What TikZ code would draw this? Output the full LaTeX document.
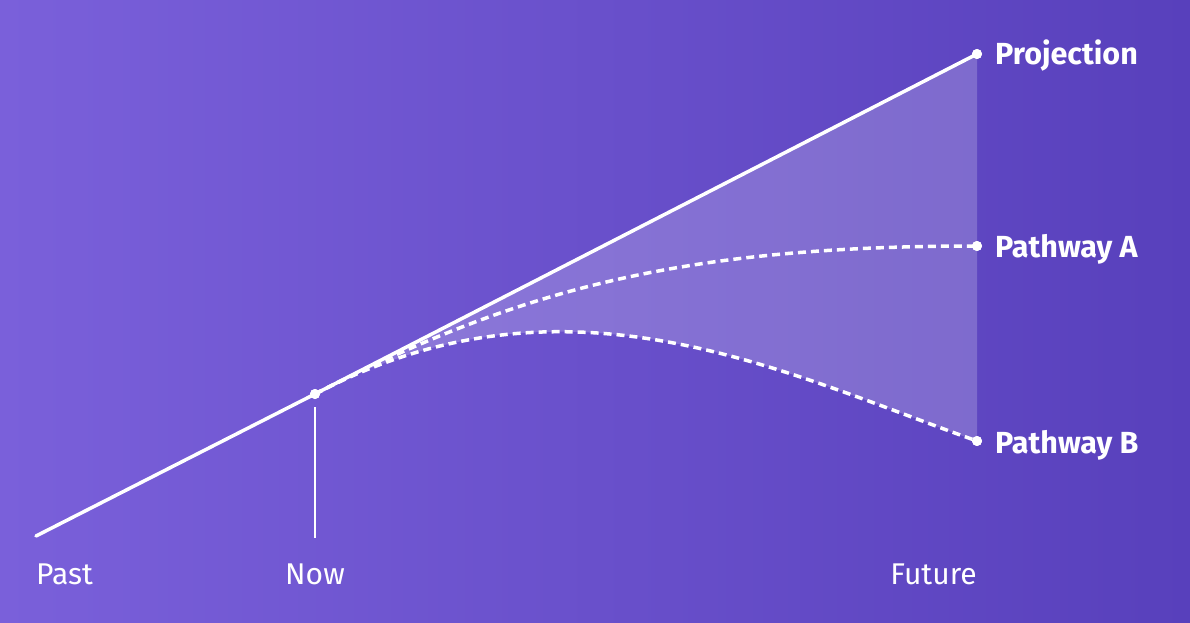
\documentclass[tikz,border=0pt]{standalone}
\usepackage{fontspec}
\setmainfont{Fira Sans}
\usetikzlibrary{calc}
\definecolor{bgL}{HTML}{7A60DA}
\definecolor{bgR}{HTML}{5840BC}
\tikzset{
  mainline/.style={white, line width=3.5pt, line cap=round},
  pathline/.style={white, line width=3.5pt, dash pattern=on 8pt off 5pt},
  dot/.style={circle, fill=white, inner sep=0pt, minimum size=10pt},
  endlabel/.style={anchor=west, text=white, font=\fontsize{30.5}{36}\selectfont\bfseries, inner sep=0pt},
  axislabel/.style={text=white, font=\fontsize{30}{36}\selectfont, inner sep=0pt, anchor=base}
}
\begin{document}
\begin{tikzpicture}[x=1pt,y=-1pt]
\shade[left color=bgL, right color=bgR] (0,0) rectangle (1190,623);
\useasboundingbox (0,0) rectangle (1190,623);
\coordinate (past) at (36,536);
\node[dot] (now) at (315,394) {};
\node[dot] (proj) at (977,54) {};
\node[dot] (pa) at (977,246) {};
\node[dot] (pb) at (977,441) {};
\coordinate (nowtop) at (315,407);
\coordinate (nowbot) at (315,538);
% shaded cone
\fill[white, opacity=0.2] (now.center) -- (proj.center) -- (pb.center) .. controls (777,370) and (565,262) .. (now.center) -- cycle;
\draw[mainline] (past) -- (now.center) -- (proj.center);
\draw[white, line width=2pt] (nowtop) -- (nowbot);
\draw[pathline] (now.center) .. controls (515,291.3) and (677,246) .. (pa.center);
\draw[pathline] (now.center) .. controls (565,262) and (777,370) .. (pb.center);
\node[dot] at (now) {};
\node[dot] at (proj) {};
\node[dot] at (pa) {};
\node[dot] at (pb) {};
\node[endlabel] (lproj) at (995,56) {Projection};
\node[endlabel] (lpa) at (995,249) {Pathway A};
\node[endlabel] (lpb) at (995,445) {Pathway B};
\node[axislabel, anchor=base west] (lpast) at (36,584) {Past};
\node[axislabel] (lnow) at (315,584) {Now};
\node[axislabel, anchor=base east] (lfut) at (977,584) {Future};
\end{tikzpicture}
\end{document}
